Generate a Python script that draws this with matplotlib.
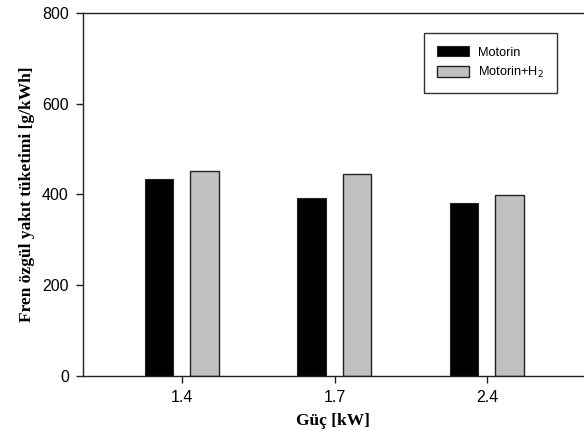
import numpy as np
import matplotlib
matplotlib.use("Agg")
import matplotlib.pyplot as plt

# data
guc = ["1.4", "1.7", "2.4"]
motorin = [433, 393, 381]
motorin_h2 = [452, 444, 398]

fig = plt.figure(figsize=(5.84, 4.36), dpi=100)
ax = fig.add_axes([0.1416, 0.1376, 0.8584, 0.8333])

x = np.arange(len(guc))
w = 0.187
ax.bar(x - 0.152, motorin, w, color="black", edgecolor="#222222", linewidth=0.8, label="Motorin")
ax.bar(x + 0.148, motorin_h2, w, color="#c0c0c0", edgecolor="#222222", linewidth=1.0,
       label="Motorin+H$_2$")

ax.set_xlim(-0.653, 2.637)
ax.set_ylim(0, 800)
ax.set_xticks(x)
ax.set_xticklabels(guc)
ax.set_yticks([0, 200, 400, 600, 800])

for s in ["left", "bottom", "top"]:
    ax.spines[s].set_color("#222222")
    ax.spines[s].set_linewidth(1.0)
ax.spines["right"].set_visible(False)

ax.tick_params(direction="out", length=5, width=1, color="#222222")
ax.tick_params(axis="both", labelsize=11.5, pad=5)
for lab in ax.get_xticklabels() + ax.get_yticklabels():
    lab.set_fontfamily("Liberation Sans")

ax.set_xlabel("Güç [kW]", fontfamily="Liberation Serif", fontweight="bold", fontsize=12.5, labelpad=6)
ax.set_ylabel("Fren özgül yakıt tüketimi [g/kWh]", fontfamily="Liberation Serif",
              fontweight="bold", fontsize=12.5, labelpad=5)

leg = ax.legend(loc="upper left", bbox_to_anchor=(0.681, 0.944), frameon=True, fancybox=False,
                prop={"family": "Liberation Sans", "size": 9.2}, handlelength=2.5, handleheight=0.9,
                borderpad=1.0, labelspacing=0.5, handletextpad=0.7, borderaxespad=0)
leg.get_frame().set_edgecolor("black")
leg.get_frame().set_linewidth(1.0)

fig.savefig("out.png", dpi=100)
